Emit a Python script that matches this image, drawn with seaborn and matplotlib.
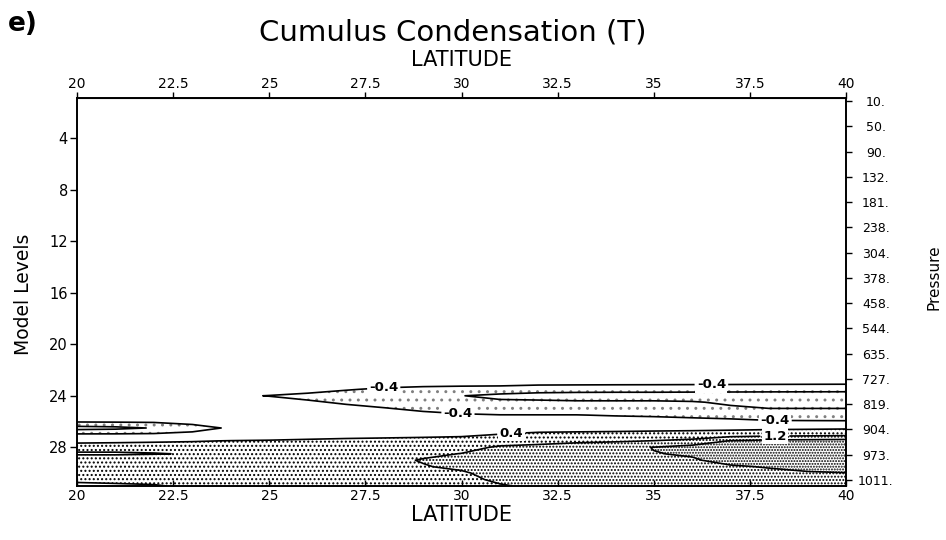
import matplotlib
matplotlib.use("Agg")
import matplotlib.pyplot as plt
from matplotlib.patches import PathPatch
import numpy as np
import seaborn as sns

# ---- data -----------------------------------------------------------------
latitudes = [20, 21, 22, 23, 24, 25, 26, 27, 28, 29, 30,
             31, 32, 33, 34, 35, 36, 37, 38, 39, 40]
model_levels = [22.0, 22.5, 23.0, 23.5, 24.0, 24.5, 25.0, 25.5, 26.0, 26.5,
                27.0, 27.5, 28.0, 28.5, 29.0, 29.5, 30.0, 30.5, 31.0]

# cumulus condensation heating, one row per model level (lat 20 -> 40)
condensation = [
    [0] * 21,
    [0, 0, 0, 0, 0, 0, 0, 0, -0.02, -0.03, -0.04, -0.05, -0.05, -0.06, -0.06, -0.06, -0.07, -0.07, -0.07, -0.08, -0.08],
    [0, 0, 0, 0, 0, 0, 0, -0.05, -0.08, -0.12, -0.14, -0.15, -0.17, -0.18, -0.19, -0.2, -0.21, -0.22, -0.23, -0.24, -0.25],
    [0, 0, 0, 0, 0, -0.02, -0.1, -0.35, -0.5, -0.6, -0.65, -0.68, -0.85, -0.88, -0.9, -0.9, -0.92, -0.93, -0.95, -0.96, -0.97],
    [0, 0, 0, 0, -0.3, -0.42, -0.6, -0.7, -0.85, -0.95, -1.18, -1.4, -1.5, -1.55, -1.56, -1.56, -1.57, -1.58, -1.58, -1.58, -1.58],
    [0, 0, 0, 0, -0.05, -0.15, -0.3, -0.5, -0.7, -0.85, -0.95, -1.05, -1.05, -1.1, -1.1, -1.1, -1.15, -1.3, -1.45, -1.46, -1.47],
    [0, 0, 0, 0, 0, 0, -0.05, -0.2, -0.35, -0.55, -0.7, -0.8, -0.85, -0.88, -0.9, -0.92, -0.95, -1.1, -1.19, -1.19, -1.19],
    [0, 0, 0, 0, 0, 0, 0, -0.05, -0.1, -0.2, -0.32, -0.38, -0.38, -0.38, -0.45, -0.5, -0.6, -0.75, -0.85, -0.86, -0.87],
    [-0.32, -0.3, -0.28, -0.15, -0.05, 0, 0, 0, 0, -0.03, -0.05, -0.02, 0, 0, -0.05, -0.08, -0.12, -0.15, -0.3, -0.32, -0.33],
    [-1.5, -1.4, -1.15, -0.7, -0.3, -0.05, 0, 0, 0, 0, 0, 0.1, 0.2, 0.22, 0.22, 0.22, 0.22, 0.22, 0.25, 0.27, 0.3],
    [-0.3, -0.3, -0.28, -0.2, -0.1, 0.0, 0.03, 0.06, 0.1, 0.15, 0.22, 0.42, 0.5, 0.52, 0.55, 0.6, 0.65, 0.75, 0.85, 0.9, 0.95],
    [0.25, 0.28, 0.32, 0.36, 0.42, 0.45, 0.52, 0.6, 0.65, 0.7, 0.75, 0.85, 0.95, 1.05, 1.1, 1.22, 1.4, 2.05, 2.2, 2.25, 2.3],
    [0.69, 0.7, 0.7, 0.7, 0.7, 0.72, 0.75, 0.78, 0.85, 0.9, 0.95, 1.3, 1.4, 1.55, 1.78, 2.02, 2.3, 2.6, 2.8, 2.9, 3.0],
    [0.3, 0.3, 0.36, 0.45, 0.75, 0.8, 0.85, 0.88, 0.95, 1.05, 1.22, 1.65, 1.75, 1.85, 1.95, 1.98, 2.05, 2.4, 2.6, 2.75, 2.85],
    [0.9, 0.9, 0.9, 0.88, 0.85, 0.88, 0.92, 0.95, 1.0, 1.25, 1.5, 1.75, 1.88, 1.95, 1.98, 1.95, 1.95, 2.15, 2.35, 2.5, 2.6],
    [0.95, 0.95, 0.95, 0.92, 0.9, 0.92, 0.95, 1.0, 1.05, 1.15, 1.35, 1.65, 1.8, 1.9, 1.95, 1.92, 1.9, 1.95, 2.03, 2.2, 2.3],
    [0.9, 0.9, 0.9, 0.9, 0.9, 0.92, 0.95, 1.0, 1.05, 1.1, 1.1, 1.5, 1.65, 1.8, 1.88, 1.85, 1.85, 1.85, 1.9, 1.93, 1.98],
    [0.65, 0.7, 0.75, 0.8, 0.85, 0.9, 0.92, 0.95, 1.0, 1.05, 1.05, 1.3, 1.45, 1.6, 1.7, 1.72, 1.75, 1.75, 1.75, 1.75, 1.78],
    [0.1, 0.2, 0.3, 0.6, 0.7, 0.8, 0.85, 0.9, 0.95, 1.0, 1.0, 1.15, 1.3, 1.45, 1.5, 1.55, 1.6, 1.6, 1.6, 1.6, 1.62],
]

contour_levels = [-1.2, -0.4, 0.4, 1.2, 2.0]
# stippled bands: (lower bound, upper bound, hatch, dot colour)
stipple_bands = [
    (-5.0, -0.4, "..", "0.5"),
    (0.4, 1.2, "....", "black"),
    (1.2, 2.0, ".....", "black"),
    (2.0, 5.0, "......", "black"),
]

lat_ticks = [20, 22.5, 25, 27.5, 30, 32.5, 35, 37.5, 40]
lat_tick_labels = ["20", "22.5", "25", "27.5", "30", "32.5", "35", "37.5", "40"]
level_ticks = [4, 8, 12, 16, 20, 24, 28]
pressure_labels = ["10.", "50.", "90.", "132.", "181.", "238.", "304.", "378.",
                   "458.", "544.", "635.", "727.", "819.", "904.", "973.", "1011."]

# contour values that carry a label, with the (latitude, level) anchors
label_spots = {
    -0.4: [(28.0, 23.5), (29.9, 25.4), (36.5, 23.2), (38.15, 25.95)],
    0.4: [(31.3, 26.95)],
    1.2: [(38.15, 27.2)],
}

# ---- style ----------------------------------------------------------------
sns.set_style("ticks", {"axes.edgecolor": "black", "xtick.color": "black",
                        "ytick.color": "black", "text.color": "black",
                        "axes.labelcolor": "black"})
plt.rcParams["font.family"] = ["DejaVu Sans"]
plt.rcParams["hatch.linewidth"] = 0.95

fig = plt.figure(figsize=(9.46, 5.40), dpi=100)
ax = fig.add_axes([77 / 946, 1 - 486 / 540, (846 - 77) / 946, (486 - 98) / 540])

lat_grid = np.array(latitudes)
lev_grid = np.array(model_levels)
field = np.array(condensation)

# each stippled band: outline it with contourf, then stipple its region
for lo, hi, hatch, dot_color in stipple_bands:
    band = ax.contourf(lat_grid, lev_grid, field, levels=[lo, hi],
                       colors="none")
    for path in band.get_paths():
        if len(path.vertices) == 0:
            continue
        ax.add_patch(PathPatch(path, facecolor="none", edgecolor=dot_color,
                               linewidth=0, hatch=hatch, zorder=1))

labels = []
for lev in contour_levels:
    cs = ax.contour(lat_grid, lev_grid, field, levels=[lev],
                    colors="black", linewidths=1.2, linestyles="solid",
                    zorder=2)
    if lev in label_spots:
        labels += cs.clabel(manual=label_spots[lev], fmt="%.1f",
                            fontsize=9.5, inline=True, inline_spacing=4)
for t in labels:
    t.set_fontweight("bold")
    t.set_rotation(0)
    t.set_zorder(3)
    t.set_bbox(dict(facecolor="white", edgecolor="none", pad=1.0))

ax.set_xlim(20, 40)
ax.set_ylim(31, 0.9)

for side in ["left", "right", "top", "bottom"]:
    ax.spines[side].set_linewidth(1.2)

# bottom latitude axis (ticks point inward)
ax.set_xticks(lat_ticks, labels=lat_tick_labels)
ax.tick_params(axis="x", direction="in", length=4, width=1, labelsize=10, pad=2)
ax.set_xlabel("LATITUDE", fontsize=15)
ax.xaxis.label.set_verticalalignment("baseline")
ax.xaxis.set_label_coords(0.5, (486 - 521) / 388)

# top latitude axis
top = ax.secondary_xaxis("top")
top.set_xticks(lat_ticks, labels=lat_tick_labels)
top.tick_params(axis="x", direction="out", length=4.3, width=1, labelsize=10, pad=0.5)
fig.text(461.5 / 946, 1 - 66 / 540, "LATITUDE", ha="center", va="baseline",
         fontsize=15)

# model levels on the left
ax.set_yticks(level_ticks)
ax.tick_params(axis="y", direction="out", length=5, width=1, labelsize=10.5, pad=1.5)
ax.set_ylabel("Model Levels", fontsize=13.5)
ax.yaxis.label.set_verticalalignment("center")
ax.yaxis.set_label_coords((23.7 - 77) / 769, (486 - 294) / 388)

# pressure labels on the right
right = ax.twinx()
right.set_ylim(15.24, -0.12)
right.set_yticks(range(len(pressure_labels)), labels=pressure_labels)
right.tick_params(axis="y", direction="out", length=4.5, width=1, labelsize=9, pad=17)
for tl in right.get_yticklabels():
    tl.set_horizontalalignment("center")
for side in ["left", "right", "top", "bottom"]:
    right.spines[side].set_linewidth(1.2)

fig.text(933.5 / 946, 1 - 277 / 540, "Pressure", rotation=90,
         ha="center", va="center", fontsize=11)
fig.text(453 / 946, 1 - 40 / 540, "Cumulus Condensation (T)",
         ha="center", va="baseline", fontsize=21)
fig.text(8 / 946, 1 - 31 / 540, "e)", ha="left", va="baseline",
         fontsize=19, fontweight="bold")

fig.savefig("out.png", dpi=100)
